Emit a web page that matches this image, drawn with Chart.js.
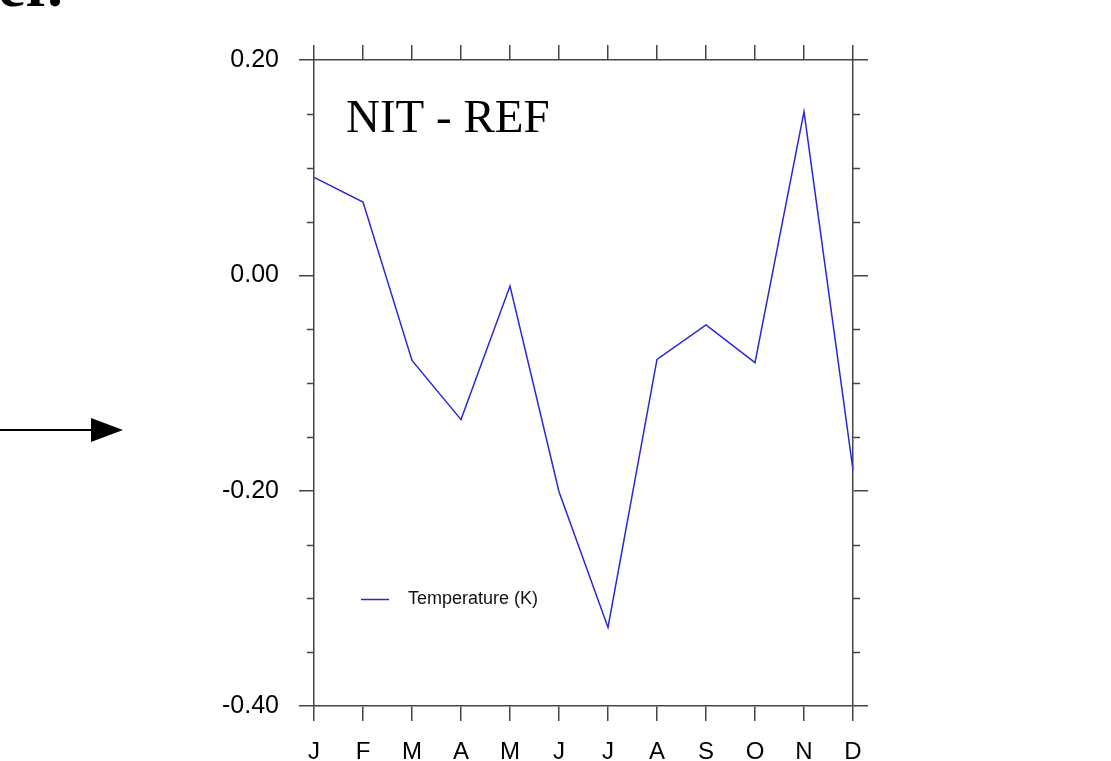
<!DOCTYPE html>
<html>
<head>
<meta charset="utf-8">
<script src="https://cdn.jsdelivr.net/npm/chart.js@4.4.0/dist/chart.umd.min.js"></script>
<style>
  html, body { margin: 0; padding: 0; background: #fff; }
  #wrap { width: 1111px; height: 761px; }
</style>
</head>
<body>
<div id="wrap"><canvas id="chart-line"></canvas></div>
<script>
// data
var months = ["J", "F", "M", "A", "M", "J", "J", "A", "S", "O", "N", "D"];
var temperature = [0.091, 0.068, -0.079, -0.134, -0.010, -0.201, -0.327, -0.078, -0.046, -0.081, 0.152, -0.181];
var yMajorTicks = [0.20, 0.00, -0.20, -0.40];
var yMinorTicks = [0.15, 0.10, 0.05, -0.05, -0.10, -0.15, -0.25, -0.30, -0.35];
var panelTitle = "NIT - REF";
var seriesLabel = "Temperature (K)";

var axisColor = "#444";
var lineColor = "rgb(40, 40, 215)";

// minor ticks, inside caption, legend and the arrow on the left
var extras = {
    id: 'extras',
    afterDraw: function (chart) {
        var ctx = chart.ctx;
        var area = chart.chartArea;
        var yScale = chart.scales.y;
        ctx.save();

        ctx.strokeStyle = axisColor;
        ctx.lineWidth = 1.5;
        yMinorTicks.forEach(function (v) {
            var py = Math.round(yScale.getPixelForValue(v)) + 0.5;
            ctx.beginPath();
            ctx.moveTo(area.left - 7, py);
            ctx.lineTo(area.left, py);
            ctx.moveTo(area.right, py);
            ctx.lineTo(area.right + 7, py);
            ctx.stroke();
        });

        ctx.fillStyle = "#000";
        ctx.textBaseline = "alphabetic";
        ctx.textAlign = "left";
        ctx.font = "47px 'Liberation Serif', 'Times New Roman', serif";
        ctx.fillText(panelTitle, area.left + 32, 132);

        // legend
        ctx.strokeStyle = lineColor;
        ctx.lineWidth = 1.5;
        ctx.beginPath();
        ctx.moveTo(361, 599.5);
        ctx.lineTo(389, 599.5);
        ctx.stroke();
        ctx.fillStyle = "#111";
        ctx.textBaseline = "middle";
        ctx.font = "18px 'Liberation Sans', Arial, sans-serif";
        ctx.fillText(chart.data.datasets[0].label, 408, 599);

        // arrow
        ctx.strokeStyle = "#000";
        ctx.lineWidth = 2;
        ctx.beginPath();
        ctx.moveTo(0, 430);
        ctx.lineTo(92, 430);
        ctx.stroke();
        ctx.fillStyle = "#000";
        ctx.beginPath();
        ctx.moveTo(91, 418);
        ctx.lineTo(123, 430);
        ctx.lineTo(91, 442);
        ctx.closePath();
        ctx.fill();

        // cut off text from the page above
        ctx.textBaseline = "alphabetic";
        ctx.font = "bold 62px 'Liberation Serif', 'Times New Roman', serif";
        ctx.fillText("er.", -2, 6);

        ctx.restore();
    }
};

function fixWidth(w) { return function (scale) { scale.width = w; }; }
function fixHeight(h) { return function (scale) { scale.height = h; }; }

var ctx = document.getElementById("chart-line").getContext("2d");

new Chart(ctx, {
    type: "line",
    data: {
        labels: months,
        datasets: [{
            label: seriesLabel,
            data: temperature,
            borderColor: lineColor,
            borderWidth: 1.5,
            pointRadius: 0,
            tension: 0,
            fill: false
        }]
    },
    options: {
        responsive: true,
        maintainAspectRatio: false,
        animation: false,
        layout: { padding: 0 },
        plugins: {
            legend: { display: false },
            tooltip: { enabled: false }
        },
        scales: {
            x: {
                type: 'category',
                position: 'bottom',
                offset: false,
                afterFit: fixHeight(55),
                grid: { drawOnChartArea: false, tickLength: 15, color: axisColor, lineWidth: 1.5 },
                border: { color: axisColor, width: 1.5 },
                ticks: {
                    color: "#000",
                    padding: 17,
                    maxRotation: 0,
                    autoSkip: false,
                    font: { family: "'Liberation Sans', Arial, sans-serif", size: 24 }
                }
            },
            x2: {
                type: 'category',
                position: 'top',
                offset: false,
                afterFit: fixHeight(60),
                grid: { drawOnChartArea: false, tickLength: 15, color: axisColor, lineWidth: 1.5 },
                border: { color: axisColor, width: 1.5 },
                ticks: { display: false, autoSkip: false }
            },
            y: {
                position: 'left',
                min: -0.4,
                max: 0.2,
                afterFit: fixWidth(314),
                afterBuildTicks: function (scale) {
                    scale.ticks = yMajorTicks.map(function (v) { return { value: v }; });
                },
                grid: { drawOnChartArea: false, tickLength: 15, color: axisColor, lineWidth: 1.5 },
                border: { color: axisColor, width: 1.5 },
                ticks: {
                    color: "#000",
                    padding: 20,
                    font: { family: "'Liberation Sans', Arial, sans-serif", size: 25 },
                    callback: function (v) { return Number(v).toFixed(2); }
                }
            },
            y2: {
                position: 'right',
                min: -0.4,
                max: 0.2,
                afterFit: fixWidth(258),
                afterBuildTicks: function (scale) {
                    scale.ticks = yMajorTicks.map(function (v) { return { value: v }; });
                },
                grid: { drawOnChartArea: false, tickLength: 15, color: axisColor, lineWidth: 1.5 },
                border: { color: axisColor, width: 1.5 },
                ticks: { display: false }
            }
        }
    },
    plugins: [extras]
});
</script>
</body>
</html>
